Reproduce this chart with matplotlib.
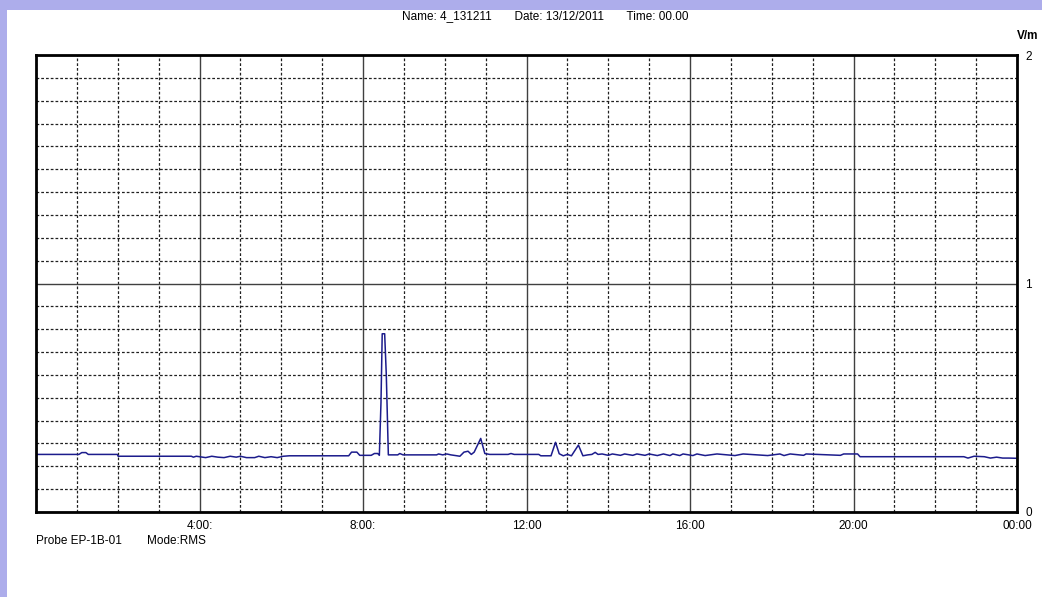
import matplotlib
matplotlib.use('Agg')
from matplotlib import pyplot as plt
from matplotlib.patches import Rectangle
from matplotlib.ticker import MultipleLocator

# measurement trace: time in hours, field in V/m
times = [0.0, 1.05, 1.12, 1.22, 1.28, 1.99, 2.01, 3.80, 3.85, 3.92,
         4.0, 4.15, 4.3, 4.45, 4.6, 4.75, 4.9, 5.0, 5.15, 5.35,
         5.45, 5.6, 5.75, 5.9, 6.05, 6.2, 7.65, 7.72, 7.85, 7.92,
         8.2, 8.28, 8.36, 8.40, 8.44, 8.47, 8.53, 8.57, 8.62, 8.85,
         8.9, 8.98, 9.8, 9.85, 9.95, 10.05, 10.15, 10.3, 10.37, 10.47,
         10.57, 10.65, 10.72, 10.88, 10.98, 11.1, 11.55, 11.62, 11.7, 12.3,
         12.35, 12.6, 12.71, 12.8, 12.9, 13.0, 13.1, 13.27, 13.38, 13.5,
         13.6, 13.68, 13.75, 13.85, 14.0, 14.1, 14.3, 14.4, 14.6, 14.7,
         14.9, 15.0, 15.2, 15.35, 15.51, 15.58, 15.75, 15.83, 16.07, 16.17,
         16.37, 16.66, 17.1, 17.3, 17.9, 18.2, 18.3, 18.45, 18.78, 18.84,
         19.68, 19.76, 20.1, 20.16, 22.7, 22.8, 22.95, 23.2, 23.35, 23.5,
         23.65, 23.8, 24.0]
values = [0.252, 0.252, 0.260, 0.260, 0.252, 0.252, 0.244, 0.244, 0.240, 0.244,
          0.242, 0.238, 0.244, 0.240, 0.238, 0.244, 0.240, 0.244, 0.238, 0.238,
          0.244, 0.238, 0.242, 0.238, 0.244, 0.246, 0.246, 0.262, 0.262, 0.248,
          0.248, 0.256, 0.256, 0.248, 0.480, 0.780, 0.780, 0.600, 0.250, 0.250,
          0.256, 0.250, 0.250, 0.254, 0.250, 0.254, 0.250, 0.246, 0.244, 0.262,
          0.266, 0.252, 0.262, 0.322, 0.256, 0.252, 0.252, 0.256, 0.252, 0.252,
          0.246, 0.246, 0.305, 0.255, 0.246, 0.252, 0.246, 0.293, 0.246, 0.250,
          0.252, 0.261, 0.252, 0.254, 0.248, 0.254, 0.248, 0.254, 0.248, 0.254,
          0.248, 0.254, 0.247, 0.254, 0.247, 0.254, 0.247, 0.254, 0.247, 0.254,
          0.247, 0.254, 0.247, 0.254, 0.247, 0.254, 0.247, 0.254, 0.248, 0.254,
          0.248, 0.254, 0.254, 0.242, 0.242, 0.236, 0.244, 0.242, 0.236, 0.240,
          0.236, 0.236, 0.235]

x_ticks = [4, 8, 12, 16, 20, 24]
x_labels = ['4:00:', '8:00:', '12:00', '16:00', '20:00', '00:00']
y_ticks = [0, 1, 2]
y_labels = ['0', '1', '2']

plt.rcParams['font.family'] = ['Liberation Sans', 'DejaVu Sans']

fig = plt.figure(figsize=(10.42, 5.97), dpi=100)
fig.patch.set_facecolor('#adadeb')
# white panel inside the lavender border
fig.patches.append(Rectangle((7 / 1042, 0), 1, 1 - 10 / 597,
                             transform=fig.transFigure, facecolor='white',
                             edgecolor='none', zorder=-10))

ax = fig.add_axes([36 / 1042, 1 - 512 / 597, 981 / 1042, 457 / 597])
ax.plot(times, values, color='#1c1c8c', lw=1.1)

ax.set_xlim(0, 24)
ax.set_ylim(0, 2)
ax.set_xticks(x_ticks)
ax.set_xticklabels(x_labels)
ax.set_yticks(y_ticks)
ax.set_yticklabels(y_labels)
ax.xaxis.set_minor_locator(MultipleLocator(1))
ax.yaxis.set_minor_locator(MultipleLocator(0.1))
ax.yaxis.tick_right()
ax.tick_params(which='both', length=0)
ax.tick_params(axis='x', pad=6, labelsize=8.5)
ax.tick_params(axis='y', pad=6, labelsize=8.5)

ax.grid(which='major', ls='-', color='#404040', lw=1)
ax.grid(which='minor', ls=(0, (2.2, 1.6)), color='#202020', lw=0.9)
ax.set_axisbelow(True)
for s in ax.spines.values():
    s.set_linewidth(2)
    s.set_color('black')

fig.text(545 / 1042, 1 - 16 / 597,
         'Name: 4_131211       Date: 13/12/2011       Time: 00.00',
         ha='center', va='center', fontsize=8.5)
fig.text(1028 / 1042, 1 - 36 / 597, 'V/m', ha='center', va='center',
         fontsize=8.5, fontweight='bold')
fig.text(36 / 1042, 1 - 541 / 597, 'Probe EP-1B-01', ha='left',
         va='center', fontsize=8.5)
fig.text(147 / 1042, 1 - 541 / 597, 'Mode:RMS', ha='left',
         va='center', fontsize=8.5)

fig.savefig('out.png', dpi=100, facecolor=fig.get_facecolor())
